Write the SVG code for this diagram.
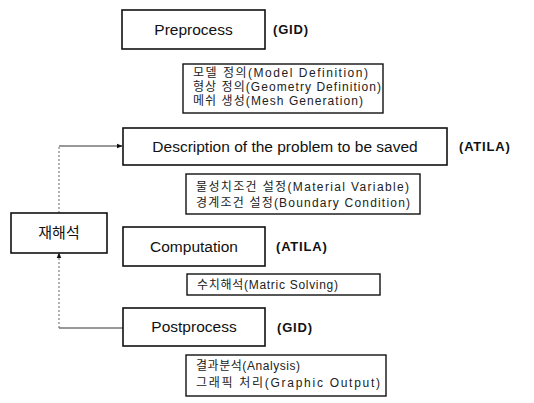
<svg xmlns="http://www.w3.org/2000/svg" width="534" height="403" viewBox="0 0 534 403">
<defs>
<style>
.box{fill:#fff;stroke:#111;stroke-width:1.6}
.sub{fill:#fff;stroke:#111;stroke-width:1.4}
.main{font-family:"Liberation Sans",Arial,sans-serif;font-size:15.5px;fill:#111}
.tag{font-family:"Liberation Sans",Arial,sans-serif;font-size:13px;font-weight:bold;letter-spacing:0.8px;fill:#111}
.kr{font-family:"Liberation Sans","Noto Sans CJK KR",sans-serif;font-size:12px;fill:#222}
.krm{font-family:"Noto Sans CJK KR",sans-serif;font-size:15px;fill:#111}
.solid{stroke:#333;stroke-width:1;fill:none}
.dash{stroke:#666;stroke-width:1;stroke-dasharray:2 2;fill:none}
</style>
<marker id="arr" viewBox="0 0 10 10" refX="9" refY="5" markerWidth="6" markerHeight="6" orient="auto">
<path d="M0,1 L10,5 L0,9 z" fill="#111"/>
</marker>
</defs>
<rect width="534" height="403" fill="#fff"/>
<g id="connectors">
<path class="dash" d="M59,213 V146"/>
<path class="solid" d="M59,146 H122" marker-end="url(#arr)"/>
<path class="solid" d="M123,328 H59"/>
<path class="dash" d="M59,328 V253" marker-end="url(#arr)"/>
</g>
<g id="preprocess">
<rect class="box" x="122" y="10" width="143" height="39"/>
<text class="main" x="193.5" y="35" text-anchor="middle">Preprocess</text>
<text class="tag" x="273" y="34">(GID)</text>
</g>
<g id="preprocess-detail">
<rect class="sub" x="183" y="64" width="200" height="49"/>
<text class="kr" x="193" y="77" textLength="175" lengthAdjust="spacing">모델 정의(Model Definition)</text>
<text class="kr" x="193" y="91" textLength="188" lengthAdjust="spacing">형상 정의(Geometry Definition)</text>
<text class="kr" x="193" y="105" textLength="170" lengthAdjust="spacing">메쉬 생성(Mesh Generation)</text>
</g>
<g id="description">
<rect class="box" x="123" y="128" width="324" height="37"/>
<text class="main" x="285" y="152" text-anchor="middle">Description of the problem to be saved</text>
<text class="tag" x="459" y="151">(ATILA)</text>
</g>
<g id="description-detail">
<rect class="sub" x="186" y="174" width="234" height="40"/>
<text class="kr" x="196" y="191" textLength="213" lengthAdjust="spacing">물성치조건 설정(Material Variable)</text>
<text class="kr" x="196" y="207" textLength="214" lengthAdjust="spacing">경계조건 설정(Boundary Condition)</text>
</g>
<g id="reanalysis">
<rect class="box" x="11" y="213" width="96" height="40"/>
<text class="krm" x="59" y="238" text-anchor="middle">재해석</text>
</g>
<g id="computation">
<rect class="box" x="123" y="227" width="142" height="39"/>
<text class="main" x="194" y="252" text-anchor="middle">Computation</text>
<text class="tag" x="276" y="251">(ATILA)</text>
</g>
<g id="computation-detail">
<rect class="sub" x="187" y="274" width="193" height="21"/>
<text class="kr" x="197" y="289" textLength="141" lengthAdjust="spacing">수치해석(Matric Solving)</text>
</g>
<g id="postprocess">
<rect class="box" x="123" y="308" width="142" height="38"/>
<text class="main" x="194" y="332" text-anchor="middle">Postprocess</text>
<text class="tag" x="277" y="332">(GID)</text>
</g>
<g id="postprocess-detail">
<rect class="sub" x="186" y="355" width="200" height="41"/>
<text class="kr" x="196" y="370" textLength="104" lengthAdjust="spacing">결과분석(Analysis)</text>
<text class="kr" x="196" y="387" textLength="184" lengthAdjust="spacing">그래픽 처리(Graphic Output)</text>
</g>
</svg>
